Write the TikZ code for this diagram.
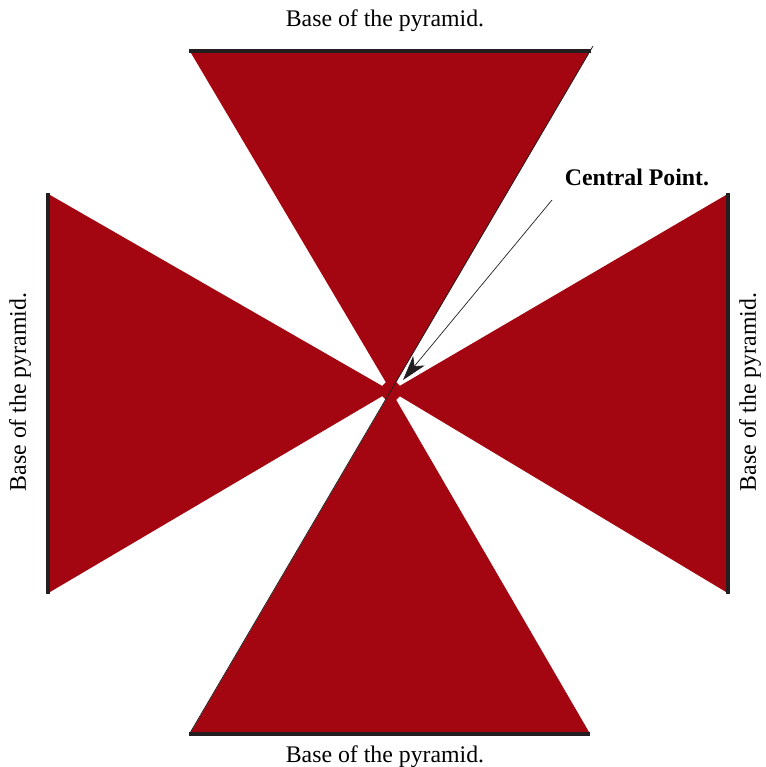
\documentclass[tikz,border=0pt]{standalone}
\usepackage{fontspec}
\setmainfont{Liberation Serif}
\usetikzlibrary{arrows.meta}
\definecolor{pyrred}{HTML}{A30610}
\definecolor{basedark}{HTML}{231F20}
\tikzset{
  face/.style={fill=pyrred, draw=none},
  baseline/.style={draw=basedark, line width=4pt},
  lbl/.style={font=\fontsize{23.8}{26}\selectfont, inner sep=0pt},
  thinline/.style={draw=basedark, line width=0.8pt},
}
\begin{document}
\begin{tikzpicture}[x=1pt,y=-1pt]
\useasboundingbox (0,0) rectangle (765,767);
\coordinate (c) at (391,391);
% triangles
\fill[face] (191,53) -- (589,53) -- (c) -- cycle;
\fill[face] (191,732) -- (589,732) -- (c) -- cycle;
\fill[face] (50,195) -- (50,592) -- (c) -- cycle;
\fill[face] (726,195) -- (726,592) -- (c) -- cycle;
\fill[face] (391,377) -- (405,391) -- (391,405) -- (377,391) -- cycle;
% bases
\draw[baseline] (189,51) -- (591,51);
\draw[baseline] (189,734) -- (590,734);
\draw[baseline] (48,193) -- (48,594);
\draw[baseline] (728,193) -- (728,594);
% thin diagonal
\coordinate (d1) at (593,46);
\coordinate (d2) at (190,733);
\draw[thinline] (d1) -- (d2);
% labels
\node[lbl] (top) at (385,21) {Base of the pyramid.};
\node[lbl] (bot) at (385,757) {Base of the pyramid.};
\node[lbl, rotate=90] (lft) at (20,392) {Base of the pyramid.};
\node[lbl, rotate=90] (rgt) at (750,392) {Base of the pyramid.};
\node[lbl, font=\fontsize{23.8}{26}\selectfont\bfseries] (cp) at (637,177) {Central Point.};
% arrow
\coordinate (a1) at (552,200);
\coordinate (a2) at (403,380);
\draw[draw=basedark, line width=0.7pt, -{Stealth[length=25pt,width=15pt,inset=7pt]}] (a1) -- (a2);
\end{tikzpicture}
\end{document}
